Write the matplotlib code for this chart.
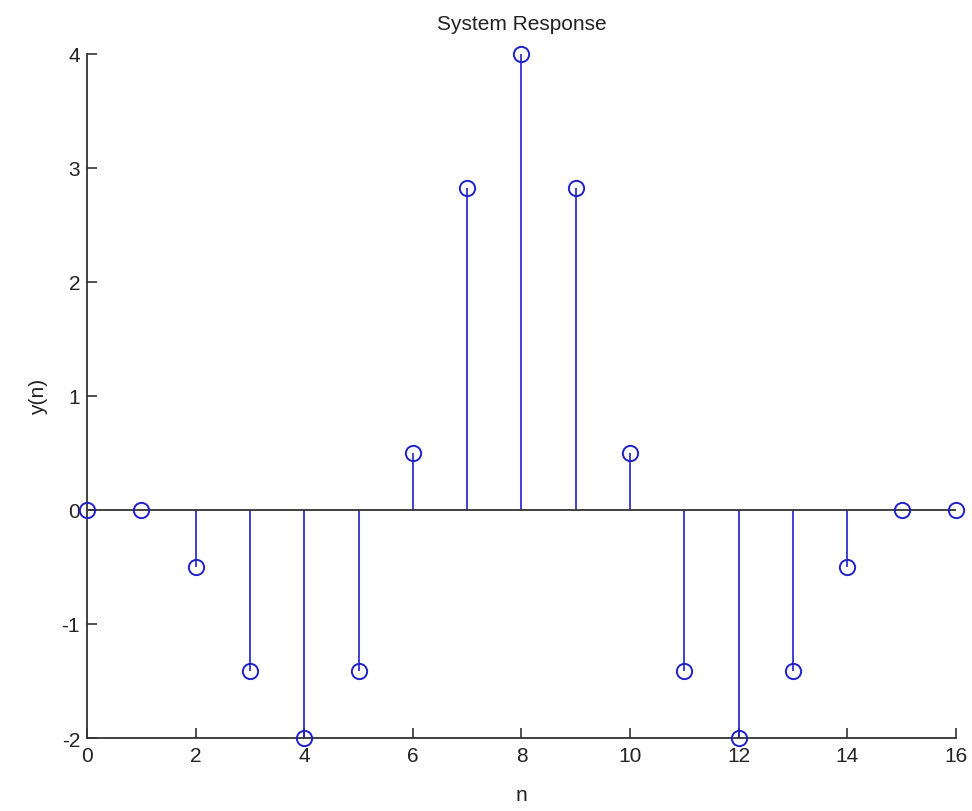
import numpy as np
import matplotlib
matplotlib.use("Agg")
import matplotlib.pyplot as plt

n = list(range(17))
y = [0, 0, -0.5, -1.4142, -2, -1.4142, 0.5, 2.8284, 4, 2.8284, 0.5,
     -1.4142, -2, -1.4142, -0.5, 0, 0]
xticks = [0, 2, 4, 6, 8, 10, 12, 14, 16]
yticks = [-2, -1, 0, 1, 2, 3, 4]

plt.rcParams['font.family'] = ['Liberation Sans', 'DejaVu Sans']
plt.rcParams['axes.unicode_minus'] = False
fig = plt.figure(figsize=(9.72, 8.12), dpi=100)
ax = fig.add_axes([0.0895, 0.0899, 0.894, 0.8424])
col = '#2020c8'
ml, sl, bl = ax.stem(n, y, linefmt='-', markerfmt='o', basefmt='-')
plt.setp(sl, color=col, linewidth=1.2, zorder=2)
plt.setp(ml, markerfacecolor='none', markeredgecolor=col, markersize=11,
         markeredgewidth=1.4, zorder=4, clip_on=False)
plt.setp(bl, color='#333333', linewidth=1.3, zorder=3)
ax.set_xlim(0, 16)
ax.set_ylim(-2, 4)
ax.set_xticks(xticks)
ax.set_yticks(yticks)
ax.spines['top'].set_visible(False)
ax.spines['right'].set_visible(False)
for s in ('left', 'bottom'):
    ax.spines[s].set_color('#333333')
    ax.spines[s].set_linewidth(1.3)
ax.tick_params(direction='in', length=7, width=1.2, colors='#333333',
               labelsize=15, labelcolor='#222222')
ax.tick_params(axis='x', pad=6)
ax.tick_params(axis='y', pad=5)
ax.set_title('System Response', fontsize=15, color='#222222', pad=18)
ax.set_xlabel('n', fontsize=15, color='#222222', labelpad=14)
ax.set_ylabel('y(n)', fontsize=15, color='#222222', labelpad=10)
fig.savefig('out.png', dpi=100)
